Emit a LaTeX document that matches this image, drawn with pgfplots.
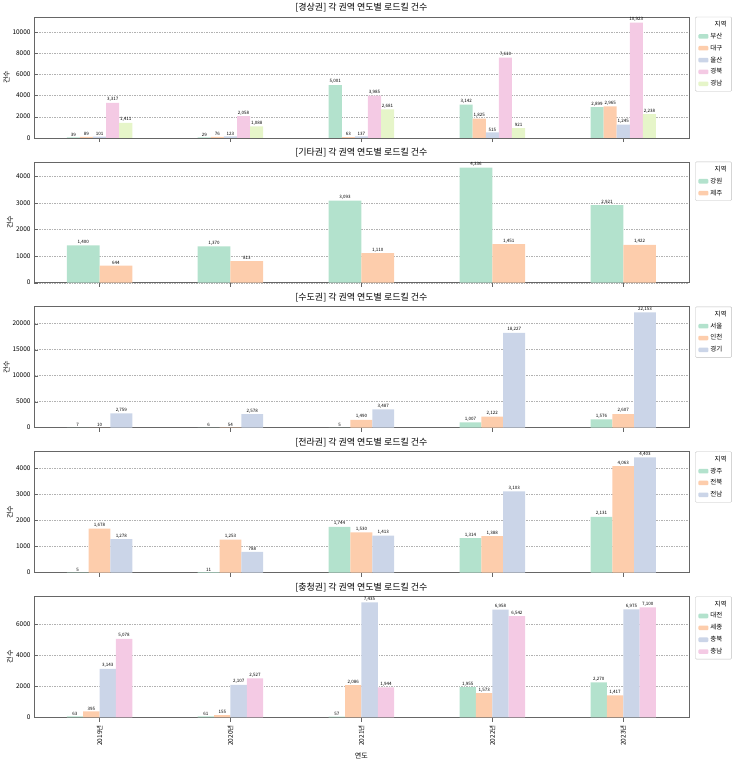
\documentclass[border=0pt]{standalone}
\usepackage{pgfplots}
\pgfplotsset{compat=1.18}
\usepgfplotslibrary{groupplots}
\usepackage{fontspec}
\setmainfont{Noto Sans CJK KR}
\definecolor{c1}{HTML}{B3E2CD}
\definecolor{c2}{HTML}{FDCDAC}
\definecolor{c3}{HTML}{CBD5E8}
\definecolor{c4}{HTML}{F4CAE4}
\definecolor{c5}{HTML}{E6F5C9}
\pgfplotsset{
  bb/.style n args={3}{fill=#1,draw=none,bar width=#2,bar shift=#3,
    legend image code/.code={\fill[#1] (0cm,-0.08cm) rectangle (0.35cm,0.08cm);}},
}
\begin{document}
\begin{tikzpicture}
\begin{groupplot}[
  group style={group size=1 by 5, vertical sep=24pt},
  width=655pt, height=121pt, scale only axis,
  xmin=-0.5, xmax=4.5, xtick={0,1,2,3,4}, xticklabels={},
  ybar, ymin=0,
  ymajorgrids, grid style={dash pattern=on 1.5pt off 1pt,gray!60,line width=0.3pt},
  tick label style={font=\fontsize{6.5}{7}\selectfont},
  /pgf/number format/assume math mode=true,
  scaled y ticks=false, yticklabel style={/pgf/number format/1000 sep={}},
  ylabel={건수}, ylabel style={font=\fontsize{7}{8}\selectfont, yshift=-4pt},
  title style={font=\fontsize{9}{10}\selectfont, yshift=-5pt},
  nodes near coords,
  every node near coord/.append style={font=\fontsize{4.5}{5}\selectfont, /pgf/number format/1000 sep={,}, /pgf/number format/assume math mode=true, inner sep=1pt},
  legend style={at={(1.01,1)}, anchor=north west, font=\fontsize{6.5}{7}\selectfont, draw=gray!50, rounded corners=1pt, row sep=1pt},
  legend cell align=left,
  axis line style={gray!80!black},
  tick style={gray!80!black},
  ytick pos=left, xtick pos=bottom,
]
\nextgroupplot[title={[경상권] 각 권역 연도별 로드킬 건수}, ymax=11470, ytick={0,2000,...,10000}]
\addlegendimage{empty legend}
\addplot[bb={c1}{0.1}{-0.2}] coordinates {(0,39)(1,29)(2,5001)(3,3142)(4,2899)};
\addplot[bb={c2}{0.1}{-0.1}] coordinates {(0,89)(1,76)(2,63)(3,1825)(4,2965)};
\addplot[bb={c3}{0.1}{0}] coordinates {(0,101)(1,123)(2,137)(3,515)(4,1245)};
\addplot[bb={c4}{0.1}{0.1}] coordinates {(0,3317)(1,2058)(2,3985)(3,7610)(4,10923)};
\addplot[bb={c5}{0.1}{0.2}] coordinates {(0,1411)(1,1088)(2,2681)(3,921)(4,2238)};
\legend{\hspace{0.15cm}지역,부산,대구,울산,경북,경남}
\nextgroupplot[title={[기타권] 각 권역 연도별 로드킬 건수}, ymax=4553, ytick={0,1000,...,4000}]
\addlegendimage{empty legend}
\addplot[bb={c1}{0.25}{-0.125}] coordinates {(0,1400)(1,1370)(2,3093)(3,4336)(4,2921)};
\addplot[bb={c2}{0.25}{0.125}] coordinates {(0,644)(1,813)(2,1110)(3,1451)(4,1422)};
\legend{\hspace{0.15cm}지역,강원,제주}
\nextgroupplot[title={[수도권] 각 권역 연도별 로드킬 건수}, ymax=23260, ytick={0,5000,...,20000}]
\addlegendimage{empty legend}
\addplot[bb={c1}{0.1667}{-0.1667}] coordinates {(0,7)(1,6)(2,5)(3,1007)(4,1576)};
\addplot[bb={c2}{0.1667}{0}] coordinates {(0,10)(1,54)(2,1490)(3,2122)(4,2607)};
\addplot[bb={c3}{0.1667}{0.1667}] coordinates {(0,2759)(1,2578)(2,3487)(3,18227)(4,22153)};
\legend{\hspace{0.15cm}지역,서울,인천,경기}
\nextgroupplot[title={[전라권] 각 권역 연도별 로드킬 건수}, ymax=4623, ytick={0,1000,...,4000}]
\addlegendimage{empty legend}
\addplot[bb={c1}{0.1667}{-0.1667}] coordinates {(0,5)(1,11)(2,1744)(3,1314)(4,2131)};
\addplot[bb={c2}{0.1667}{0}] coordinates {(0,1678)(1,1253)(2,1530)(3,1388)(4,4063)};
\addplot[bb={c3}{0.1667}{0.1667}] coordinates {(0,1278)(1,788)(2,1413)(3,3103)(4,4403)};
\legend{\hspace{0.15cm}지역,광주,전북,전남}
\nextgroupplot[title={[충청권] 각 권역 연도별 로드킬 건수}, ymax=7807, ytick={0,2000,...,6000},
  xticklabels={2019년,2020년,2021년,2022년,2023년}, xticklabel style={rotate=90, anchor=east},
  xlabel={연도}, xlabel style={font=\fontsize{7}{8}\selectfont}]
\addlegendimage{empty legend}
\addplot[bb={c1}{0.125}{-0.1875}] coordinates {(0,63)(1,61)(2,57)(3,1955)(4,2270)};
\addplot[bb={c2}{0.125}{-0.0625}] coordinates {(0,395)(1,155)(2,2086)(3,1573)(4,1417)};
\addplot[bb={c3}{0.125}{0.0625}] coordinates {(0,3143)(1,2107)(2,7435)(3,6958)(4,6975)};
\addplot[bb={c4}{0.125}{0.1875}] coordinates {(0,5078)(1,2527)(2,1944)(3,6542)(4,7100)};
\legend{\hspace{0.15cm}지역,대전,세종,충북,충남}
\end{groupplot}
\end{tikzpicture}
\end{document}
